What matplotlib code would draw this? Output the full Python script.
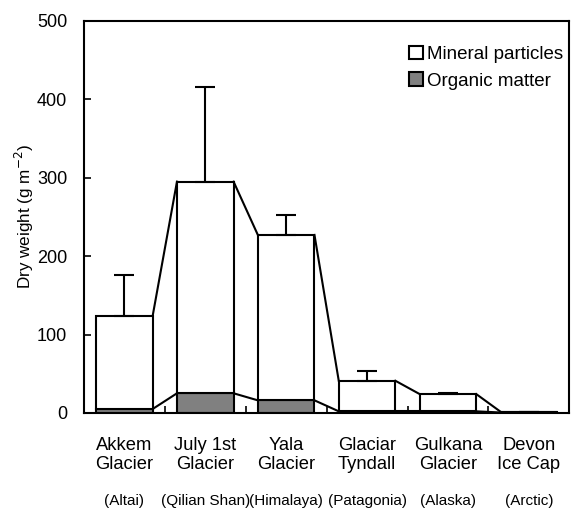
import numpy as np
import matplotlib.pyplot as plt
from matplotlib.transforms import blended_transform_factory

plt.rcParams['font.family'] = ['Liberation Sans', 'DejaVu Sans']

names = ['Akkem\nGlacier', 'July 1st\nGlacier', 'Yala\nGlacier',
         'Glaciar\nTyndall', 'Gulkana\nGlacier', 'Devon\nIce Cap']
regions = ['(Altai)', '(Qilian Shan)', '(Himalaya)', '(Patagonia)', '(Alaska)', '(Arctic)']
total = [124, 295, 227, 41, 24, 1.5]
organic = [5, 25, 16, 2, 2, 0.5]
err = [52, 121, 26, 13, 2, 0]

mineral = np.array(total) - np.array(organic)
x = np.arange(len(names))
w = 0.7

fig = plt.figure(figsize=(5.71, 5.11), dpi=100)
ax = fig.add_axes([0.147, 0.192, 0.85, 0.767])

ax.bar(x, organic, w, color='#808080', edgecolor='black', linewidth=1.5,
       label='Organic matter', zorder=2)
ax.bar(x, mineral, w, bottom=organic, color='white', edgecolor='black',
       linewidth=1.5, label='Mineral particles', zorder=2)
ax.errorbar(x, total, yerr=[np.zeros(len(err)), err], fmt='none',
            ecolor='black', elinewidth=1.5, capsize=7, capthick=1.5, zorder=3)

# series lines between neighbouring bars
for i in range(len(x) - 1):
    ax.plot([x[i] + w / 2, x[i + 1] - w / 2], [total[i], total[i + 1]],
            color='black', lw=1.5, zorder=1)
    ax.plot([x[i] + w / 2, x[i + 1] - w / 2], [organic[i], organic[i + 1]],
            color='black', lw=1.5, zorder=1)

ax.set_xlim(-0.5, len(x) - 0.5)
ax.set_ylim(0, 500)
ax.set_yticks(np.arange(0, 501, 100))
ax.set_xticks(x[:-1] + 0.5)
ax.set_xticklabels([])
ax.tick_params(axis='both', direction='in', length=5, width=1.2, labelsize=13)
ax.tick_params(axis='y', pad=12)
for s in ax.spines.values():
    s.set_linewidth(1.5)

ax.set_ylabel('Dry weight (g m$^{-2}$)', fontsize=12.3, labelpad=1)

tr = blended_transform_factory(ax.transData, fig.transFigure)
for i, (n, r) in enumerate(zip(names, regions)):
    ax.text(x[i], 0.11, n, transform=tr, ha='center', va='center',
            fontsize=13.2, linespacing=1.15)
    ax.text(x[i], 0.02, r, transform=tr, ha='center', va='center', fontsize=11)

h, l = ax.get_legend_handles_labels()
ax.legend(h[::-1], l[::-1], loc='upper right', bbox_to_anchor=(1.025, 0.985),
          frameon=False, fontsize=13.5,
          handlelength=0.75, handleheight=0.75, handletextpad=0.2,
          labelspacing=0.5, borderaxespad=0.6)

fig.savefig('out.png', dpi=100)
